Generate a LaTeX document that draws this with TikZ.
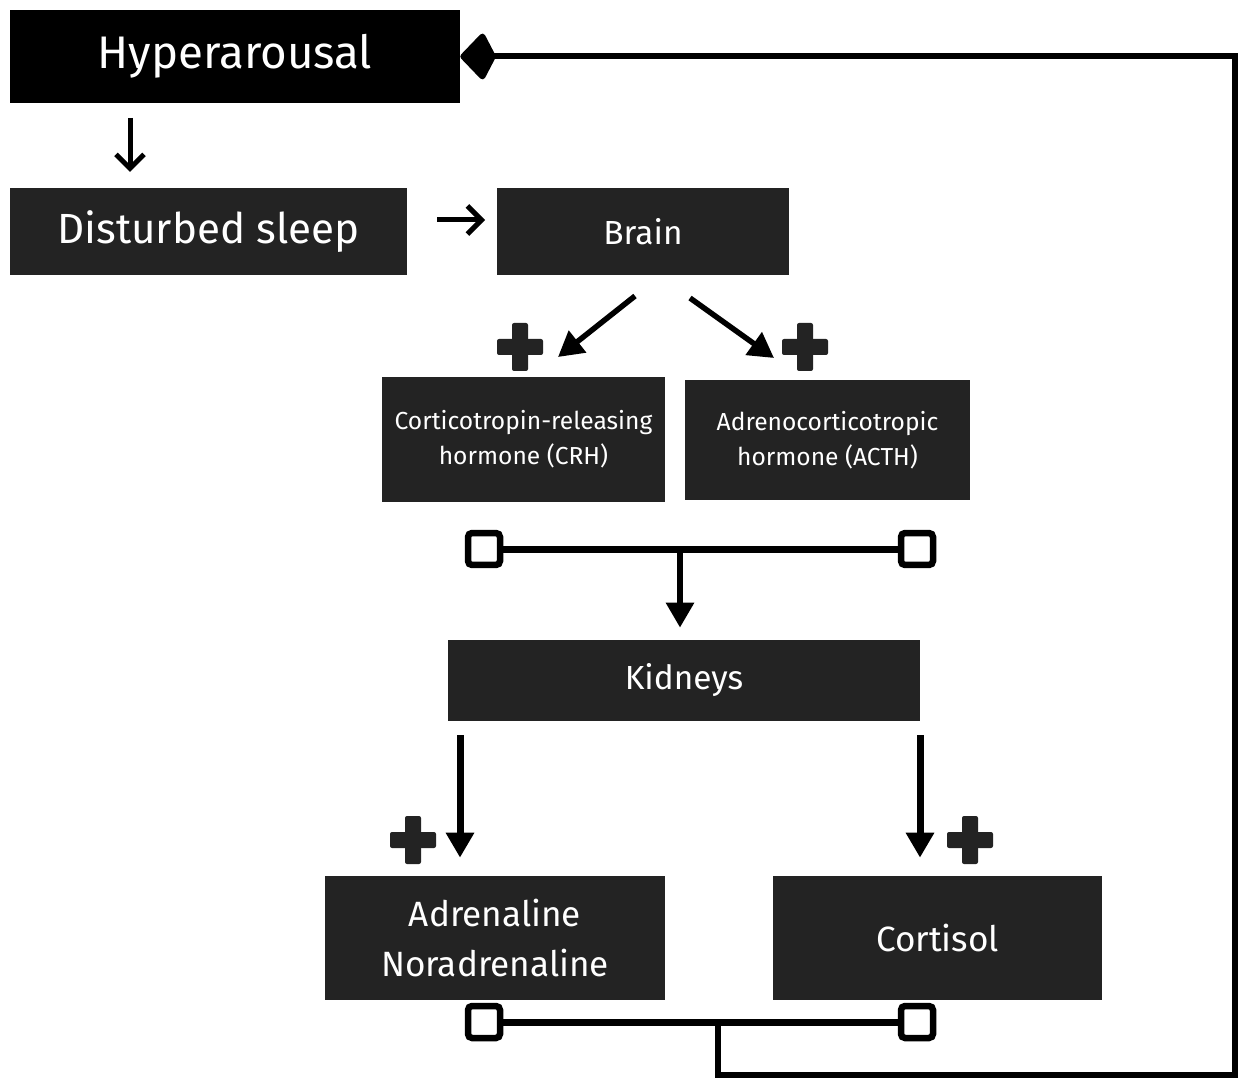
\documentclass[tikz,border=0pt]{standalone}
\usepackage{fontspec}
\setmainfont{Fira Sans}
\usepackage{xcolor}
\usetikzlibrary{positioning,arrows.meta,calc}
\definecolor{boxgray}{HTML}{232323}
\tikzset{
  box/.style={fill=boxgray, text=white, align=center, inner sep=0pt},
  sqr/.style={draw, fill=white, line width=1.3mm, rounded corners=0.8mm, minimum size=6.4mm, inner sep=0pt},
  pointer/.style={-{Straight Barb[length=2.8mm, width=5.6mm]}, line width=1mm},
  arr/.style={-{Triangle[length=5mm, width=5.4mm]}, line width=1.1mm},
  bar/.style={line width=1.4mm},
  fb/.style={-{Kite[length=7.4mm, width=10mm, inset=2.6mm, round]}, line width=1.2mm},
  pics/plusmark/.style={code={
    \fill[boxgray, rounded corners=0.4mm] (-23,-8) rectangle (23,8);
    \fill[boxgray, rounded corners=0.4mm] (-8,-24) rectangle (8,24);}},
}
\begin{document}
\begin{tikzpicture}[x=0.02cm, y=-0.02cm]
\useasboundingbox (0,0) rectangle (1241,1084);
% boxes
\node[box, fill=black, minimum width=90mm, minimum height=18.6mm, font=\fontsize{26}{30}\selectfont] (hyp) at (235,56.5) {Hyperarousal};
\node[box, minimum width=79.4mm, minimum height=17.4mm, font=\fontsize{24}{30}\selectfont] (dist) at (208.5,231.5) {Disturbed sleep};
\node[box, minimum width=58.4mm, minimum height=17.4mm, font=\fontsize{19}{24}\selectfont] (brain) at (643,231.5) {Brain};
\node[box, minimum width=56.6mm, minimum height=25mm, font=\fontsize{14}{20}\selectfont] (crh) at (523.5,439.5) {Corticotropin-releasing\\hormone (CRH)};
\node[box, minimum width=57mm, minimum height=24mm, font=\fontsize{14}{20}\selectfont] (acth) at (827.5,440) {Adrenocorticotropic\\hormone (ACTH)};
\node[box, minimum width=94.4mm, minimum height=16.2mm, font=\fontsize{19}{24}\selectfont] (kid) at (684,680.5) {Kidneys};
\node[box, minimum width=68mm, minimum height=24.8mm, font=\fontsize{20}{28.5}\selectfont] (adr) at (495,938) {Adrenaline\\Noradrenaline};
\node[box, minimum width=65.8mm, minimum height=24.8mm, font=\fontsize{20}{24}\selectfont] (cort) at (937.5,938) {Cortisol};
% plus marks
\pic at (520,347) {plusmark};
\pic at (805,347) {plusmark};
\pic at (413,840) {plusmark};
\pic at (970,840) {plusmark};
% arrow ends
\coordinate (p1) at (130,118);
\coordinate (p2) at (437,220);
\coordinate (b1) at (635,296);
\coordinate (b2) at (690,298);
\coordinate (k1) at (460,735);
\coordinate (k2) at (920,735);
\draw[pointer] (p1) -- (p1 |- 0,172);
\draw[pointer] (p2) -- (485,220);
\draw[arr] (b1) -- (558,357);
\draw[arr] (b2) -- (774,358);
\draw[arr, line width=1.4mm, shorten >=3.6mm] (k1) -- (k1 |- adr.north);
\draw[arr, line width=1.4mm, shorten >=3.6mm] (k2) -- (k2 |- cort.north);
% upper bracket
\node[sqr] (s1) at (484,549) {};
\node[sqr] (s2) at (917,549) {};
\draw[bar] (s1) -- (s2);
\coordinate (j1) at (680,549);
\draw[arr, line width=1.2mm, shorten >=2.4mm] (j1) -- (j1 |- kid.north);
% lower bracket and feedback
\node[sqr] (s3) at (484,1022) {};
\node[sqr] (s4) at (917,1022) {};
\draw[bar] (s3) -- (s4);
\coordinate (j2) at (718,1022);
\coordinate (fc) at (1235,1075);
\draw[fb] (j2) |- (fc) |- (hyp.east);
\end{tikzpicture}
\end{document}
